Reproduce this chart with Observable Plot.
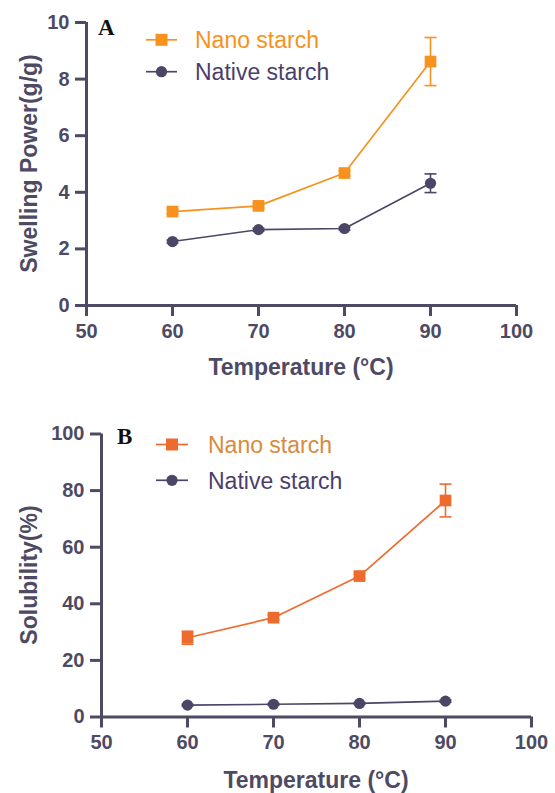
<!DOCTYPE html>
<html><head><meta charset="utf-8">
<script src="https://cdn.jsdelivr.net/npm/d3@7"></script>
<script src="https://cdn.jsdelivr.net/npm/@observablehq/plot@0.6"></script>
<style>
body{margin:0;background:#fff;}
#wrap{position:relative;width:555px;height:793px;overflow:hidden;background:#fff;}
#wrap > svg{position:absolute;left:0;}
</style></head><body><div id="wrap"></div>
<script>
// ---- data ----
const temperatures = [60, 70, 80, 90];
const xTicks = [50, 60, 70, 80, 90, 100];
const seriesNames = ["Nano starch", "Native starch"];

const swellingTicks = [0, 2, 4, 6, 8, 10];
const swellingNano = [3.32, 3.52, 4.68, 8.62];
const swellingNanoErr = [0.08, 0.08, 0.08, 0.85];
const swellingNative = [2.26, 2.68, 2.72, 4.32];
const swellingNativeErr = [0.05, 0.05, 0.05, 0.33];

const solubilityTicks = [0, 20, 40, 60, 80, 100];
const solubilityNano = [28.0, 35.1, 49.8, 76.5];
const solubilityNanoErr = [2.3, 0.8, 0.8, 5.8];
const solubilityNative = [4.2, 4.5, 4.8, 5.6];
const solubilityNativeErr = [0.3, 0.3, 0.3, 0.4];

// ---- styles ----
const axisColor = "#4e4a63";
const nativeColor = "#4b4566";
const nativeText = "#4a3f6c";
const sans = "'Liberation Sans', Arial, sans-serif";
const serif = "'Liberation Serif', 'Times New Roman', serif";

const capSymbol = {
  draw(ctx, size) {
    const w = Math.sqrt(size / Math.PI);
    ctx.moveTo(-w, 0); ctx.lineTo(w, 0);
  }
};

function rows(vals, errs) {
  return temperatures.map((t, i) => ({t, v: vals[i], e: errs[i]}));
}

function panel(o) {
  const nano = rows(o.nano, o.nanoErr);
  const nat = rows(o.native, o.nativeErr);
  const errMarks = (data, color) => [
    Plot.ruleX(data, {x: "t", y1: d => d.v - d.e, y2: d => d.v + d.e, stroke: color, strokeWidth: 1.6}),
    Plot.dot(data, {x: "t", y: d => d.v + d.e, symbol: capSymbol, r: 6, fill: "none", stroke: color, strokeWidth: 1.6}),
    Plot.dot(data, {x: "t", y: d => d.v - d.e, symbol: capSymbol, r: 6, fill: "none", stroke: color, strokeWidth: 1.6})
  ];
  const svg = Plot.plot({
    width: 555, height: o.height,
    marginTop: o.mt, marginBottom: o.mb, marginLeft: o.ml, marginRight: o.mr,
    style: {background: "transparent", overflow: "visible", fontFamily: sans},
    x: {domain: [50, 100]},
    y: {domain: o.yDomain},
    marks: [
      Plot.ruleY([o.yDomain[0]], {stroke: axisColor, strokeWidth: 3}),
      Plot.ruleX([50], {stroke: axisColor, strokeWidth: 3}),
      Plot.axisX({ticks: xTicks, tickSize: 11, tickPadding: 7, tickFormat: d => String(d), label: null,
        fontSize: 20, fontWeight: "bold", fontFamily: sans, color: axisColor, strokeWidth: 3}),
      Plot.axisY({ticks: o.yTicks, tickSize: 11, tickPadding: 6, tickFormat: d => String(d), label: null,
        fontSize: 20, fontWeight: "bold", fontFamily: sans, color: axisColor, strokeWidth: 3}),
      ...errMarks(nat, nativeColor),
      Plot.line(nat, {x: "t", y: "v", stroke: nativeColor, strokeWidth: 1.6}),
      Plot.dot(nat, {x: "t", y: "v", symbol: "circle", r: 5.6, fill: nativeColor, stroke: "none"}),
      ...errMarks(nano, o.nanoColor),
      Plot.line(nano, {x: "t", y: "v", stroke: o.nanoColor, strokeWidth: 1.7}),
      Plot.dot(nano, {x: "t", y: "v", symbol: "square", r: 6.6, fill: o.nanoColor, stroke: "none"})
    ]
  });
  svg.style.top = o.top + "px";
  return svg;
}

const wrap = document.getElementById("wrap");
wrap.appendChild(panel({
  top: 0, height: 400, mt: 22, mb: 95, ml: 86, mr: 39,
  yDomain: [0, 10], yTicks: swellingTicks,
  nano: swellingNano, nanoErr: swellingNanoErr,
  native: swellingNative, nativeErr: swellingNativeErr,
  nanoColor: "#f7921e"
}));
wrap.appendChild(panel({
  top: 400, height: 393, mt: 33.5, mb: 76.5, ml: 101, mr: 24,
  yDomain: [0, 100], yTicks: solubilityTicks,
  nano: solubilityNano, nanoErr: solubilityNanoErr,
  native: solubilityNative, nativeErr: solubilityNativeErr,
  nanoColor: "#ee6b2e"
}));

// ---- overlay: titles, panel letters, legends ----
const ns = "http://www.w3.org/2000/svg";
const ov = document.createElementNS(ns, "svg");
ov.setAttribute("width", 555); ov.setAttribute("height", 793);
ov.style.top = "0px";
wrap.appendChild(ov);
function el(tag, attrs, text) {
  const e = document.createElementNS(ns, tag);
  for (const k in attrs) e.setAttribute(k, attrs[k]);
  if (text != null) e.textContent = text;
  ov.appendChild(e);
  return e;
}
function title(x, y, txt, rotate) {
  el("text", {x: rotate ? 0 : x, y: rotate ? 8.2 : y, "text-anchor": "middle",
    transform: rotate ? `translate(${x},${y}) rotate(-90)` : "",
    "font-family": sans, "font-weight": "bold", "font-size": 23, fill: axisColor}, txt);
}
title(301, 374.9, "Temperature (°C)");
title(29, 163.5, "Swelling Power(g/g)", true);
title(316, 788.2, "Temperature (°C)");
title(29, 575, "Solubility(%)", true);

el("text", {x: 98, y: 35, "font-family": serif, "font-weight": "bold", "font-size": 23, fill: "#111"}, "A");
el("text", {x: 117, y: 443.5, "font-family": serif, "font-weight": "bold", "font-size": 23, fill: "#111"}, "B");

function legend(x0, x1, xt, y, label, color, textColor, square) {
  el("line", {x1: x0, x2: x1, y1: y, y2: y, stroke: color, "stroke-width": 1.7});
  const xc = (x0 + x1) / 2;
  if (square) el("rect", {x: xc - 6, y: y - 6, width: 12, height: 12, fill: color});
  else el("circle", {cx: xc, cy: y, r: 5.6, fill: color});
  el("text", {x: xt, y: y + 8.2, "font-family": sans, "font-size": 23, fill: textColor}, label);
}
legend(146, 177, 195, 39.8, seriesNames[0], "#f7921e", "#f7921e", true);
legend(146, 177, 195, 71.7, seriesNames[1], nativeColor, nativeText, false);
legend(156, 188, 208, 444.5, seriesNames[0], "#ee6b2e", "#d98a3c", true);
legend(156, 188, 208, 480.3, seriesNames[1], nativeColor, nativeText, false);
</script></body></html>
